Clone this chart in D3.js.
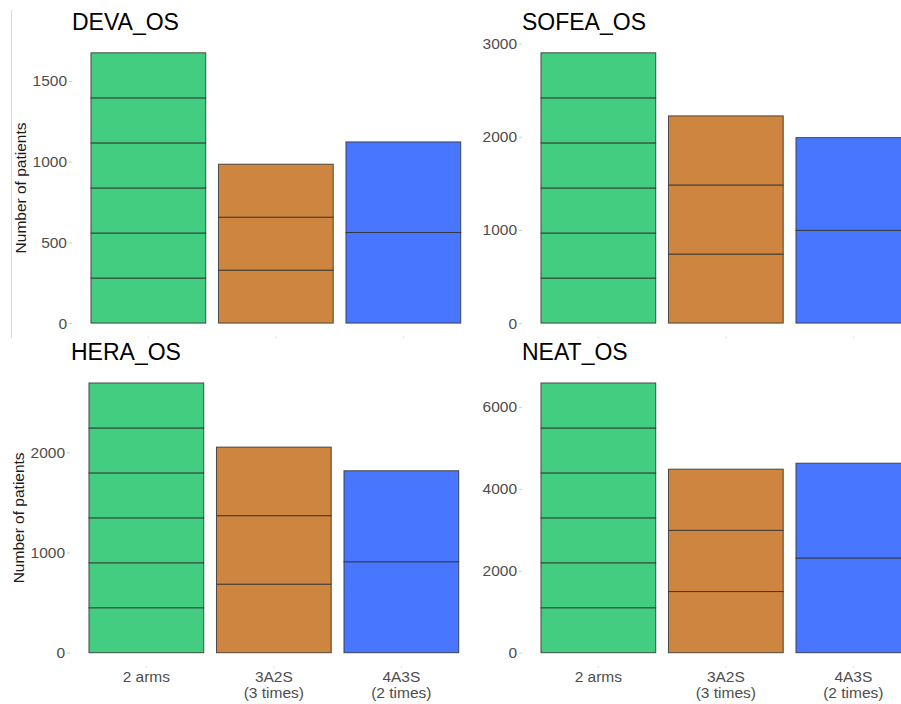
<!DOCTYPE html>
<html>
<head>
<meta charset="utf-8">
<script src="https://cdn.jsdelivr.net/npm/d3@7"></script>
<style>
  html, body { margin: 0; padding: 0; background: #fff; }
  svg { display: block; font-family: "Liberation Sans", Arial, sans-serif; }
</style>
</head>
<body>
<svg id="chart" width="901" height="704"></svg>
<script>
// ---- data ----
const categories = ["2 arms", "3A2S\n(3 times)", "4A3S\n(2 times)"];
const segmentsPerBar = [6, 3, 2];
const barColors = ["#43CD80", "#CD853F", "#4876FF"];

const panelTitles = ["DEVA_OS", "SOFEA_OS", "HERA_OS", "NEAT_OS"];
const devaTotals  = [1674, 984, 1122];
const sofeaTotals = [2900, 2223, 1990];
const heraTotals  = [2692, 2052, 1816];
const neatTotals  = [6582, 4479, 4624];

const devaTicks  = [0, 500, 1000, 1500];
const sofeaTicks = [0, 1000, 2000, 3000];
const heraTicks  = [0, 1000, 2000];
const neatTicks  = [0, 2000, 4000, 6000];

const yAxisTitle = "Number of patients";

// ---- layout ----
const panels = [
  { title: panelTitles[0], totals: devaTotals,  ticks: devaTicks,  x0: 84.6,  y0: 336.6, y1: 39.3,  titleX: 72,  titleY: 30,  yTitle: true,  xLabels: false },
  { title: panelTitles[1], totals: sofeaTotals, ticks: sofeaTicks, x0: 534.6, y0: 336.6, y1: 39.3,  titleX: 522, titleY: 30,  yTitle: false, xLabels: false },
  { title: panelTitles[2], totals: heraTotals,  ticks: heraTicks,  x0: 82.6,  y0: 666.2, y1: 369.5, titleX: 71,  titleY: 360, yTitle: true,  xLabels: true },
  { title: panelTitles[3], totals: neatTotals,  ticks: neatTicks,  x0: 534.6, y0: 666.2, y1: 369.5, titleX: 522, titleY: 360, yTitle: false, xLabels: true }
];
const bandWidthTotal = 382.5;
const smallFont = 15.5;

const svg = d3.select("#chart");

// panel border on the left
svg.append("line").attr("x1", 11.5).attr("x2", 11.5).attr("y1", 10).attr("y2", 338)
  .attr("stroke", "#dcdcdc").attr("stroke-width", 1);

panels.forEach(p => {
  const g = svg.append("g");
  const x = d3.scaleBand().domain(categories)
    .range([p.x0, p.x0 + bandWidthTotal]).paddingInner(0.1).paddingOuter(0.05);
  const maxV = d3.max(p.totals);
  const y = d3.scaleLinear().domain([-0.05 * maxV, 1.05 * maxV]).range([p.y0, p.y1]);

  // bars as stacked equal segments
  categories.forEach((c, i) => {
    const n = segmentsPerBar[i];
    const seg = p.totals[i] / n;
    const segs = d3.range(n).map(k => ({ lo: k * seg, hi: (k + 1) * seg }));
    g.selectAll(null).data(segs).enter().append("rect")
      .attr("x", x(c))
      .attr("width", x.bandwidth())
      .attr("y", d => y(d.hi))
      .attr("height", d => y(d.lo) - y(d.hi))
      .attr("fill", barColors[i])
      .attr("stroke", "#333")
      .attr("stroke-opacity", 0.85)
      .attr("stroke-width", 1);
  });

  // y axis
  const yAxis = d3.axisLeft(y).tickValues(p.ticks).tickSize(3).tickPadding(2).tickFormat(d3.format("d"));
  const ya = g.append("g").attr("transform", `translate(${p.x0 - 12.6},0)`).call(yAxis);
  ya.select(".domain").remove();
  ya.selectAll(".tick line").attr("stroke", "#ccc");
  ya.selectAll(".tick text").attr("fill", "#4d4d4d").attr("font-size", smallFont)
    .attr("font-family", "Liberation Sans, Arial, sans-serif");

  // x axis
  const xAxis = d3.axisBottom(x).tickSize(2).tickPadding(10).tickFormat(() => "");
  const xa = g.append("g").attr("transform", `translate(0,${p.y0})`).call(xAxis);
  xa.select(".domain").remove();
  xa.selectAll(".tick line").attr("stroke", "#ddd");
  xa.selectAll(".tick text").remove();

  if (p.xLabels) {
    categories.forEach(c => {
      const lines = c.split("\n");
      const t = g.append("text")
        .attr("x", x(c) + x.bandwidth() / 2)
        .attr("y", p.y0 + 16)
        .attr("text-anchor", "middle")
        .attr("fill", "#4d4d4d")
        .attr("font-size", smallFont);
      lines.forEach((ln, k) => {
        t.append("tspan").attr("x", x(c) + x.bandwidth() / 2)
          .attr("dy", k === 0 ? 0 : 16).text(ln);
      });
    });
  }

  // title
  g.append("text").attr("x", p.titleX).attr("y", p.titleY)
    .attr("font-size", 23).attr("fill", "#000").text(p.title);

  if (p.yTitle) {
    const cy = (p.y0 + p.y1) / 2;
    const cx = p.x0 - 58.5;
    g.append("text")
      .attr("transform", `translate(${cx},${cy}) rotate(-90)`)
      .attr("text-anchor", "middle")
      .attr("font-size", smallFont)
      .attr("fill", "#1a1a1a")
      .text(yAxisTitle);
  }
});
</script>
</body>
</html>
